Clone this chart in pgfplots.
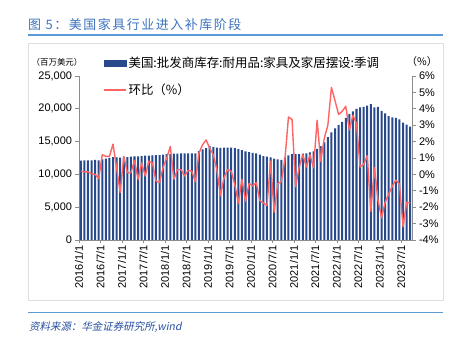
\documentclass[border=0pt]{standalone}
\usepackage{pgfplots}
\pgfplotsset{compat=1.18}
\usepackage{pgfplotstable}
\usepackage{fontspec}
\setmainfont{Liberation Sans}
\newfontfamily\cjk{Noto Sans CJK SC}
\newfontfamily\cjktitle{Noto Sans CJK SC}[LetterSpace=12]
\newfontfamily\cjkit{Noto Sans CJK SC}[FakeSlant=0.2]
\definecolor{barblue}{RGB}{40,74,140}
\definecolor{linered}{RGB}{255,100,100}
\definecolor{titleblue}{RGB}{60,115,190}
\definecolor{ruleblue}{RGB}{91,155,213}
\definecolor{srcblue}{RGB}{40,80,160}
\definecolor{axgray}{RGB}{140,140,140}
\pgfplotstableread{
i inv mom
0 12100 0.2
1 12150 0.15
2 12150 0.15
3 12150 0.05
4 12200 0.0
5 12150 -0.25
6 12300 1.2
7 12400 1.1
8 12500 1.1
9 12650 1.85
10 12600 0.4
11 12550 -1.1
12 12600 1.1
13 12650 0.1
14 12700 0.1
15 12750 0.85
16 12750 -0.3
17 12800 0.7
18 12850 -0.1
19 12850 0.8
20 12900 0.7
21 12950 -0.4
22 12950 -0.5
23 13000 0.45
24 13100 1.0
25 13100 1.7
26 13150 -0.3
27 13150 0.3
28 13200 0.3
29 13200 -0.1
30 13200 0.25
31 13200 0.2
32 13200 -0.45
33 13550 1.3
34 13800 1.8
35 14000 2.1
36 14300 1.6
37 14200 1.2
38 14100 0.3
39 14050 -1.3
40 14100 -0.2
41 14100 0.3
42 14100 0.2
43 14000 -0.6
44 13850 -1.75
45 13700 -0.3
46 13500 -1.65
47 13400 -0.55
48 13300 -0.7
49 13200 -0.5
50 13000 -1.6
51 12800 -1.75
52 12700 -1.9
53 12600 0.8
54 12400 -2.3
55 12300 -0.55
56 12200 -0.45
57 12500 0.9
58 12900 3.5
59 13100 3.35
60 13100 -0.75
61 13100 0.45
62 13150 1.2
63 13200 0.45
64 13350 1.2
65 13500 0.4
66 13900 3.3
67 14300 0.8
68 14900 2.2
69 15700 3.0
70 16400 5.3
71 17000 4.5
72 17500 3.65
73 18000 3.85
74 18600 4.15
75 19200 2.7
76 19600 3.6
77 20000 3.1
78 20200 0.45
79 20300 0.6
80 20500 1.15
81 20700 -2.25
82 20200 0.4
83 20300 -1.55
84 19700 -2.65
85 19300 -1.7
86 18900 -1.2
87 18700 -0.7
88 18600 -0.35
89 18400 -0.6
90 17900 -3.2
91 17600 -1.7
92 17300 -1.75
}\datatable
\begin{document}
\begin{tikzpicture}
\useasboundingbox[fill=white] (0,0) rectangle (459bp,341bp);
% title
\node[anchor=west, text=titleblue, inner sep=0pt] at (28bp,316bp) {\fontsize{13}{15}\cjktitle 图 5：美国家具行业进入补库阶段};
\draw[ruleblue, line width=1.3bp] (28bp,306bp) -- (443bp,306bp);
% chart frame
\draw[gray!25, line width=0.6bp] (28bp,41bp) rectangle (443bp,298bp);
% source
\draw[ruleblue, line width=1bp] (28bp,28bp) -- (443bp,28bp);
\node[anchor=west, text=srcblue, inner sep=0pt] at (29bp,14bp) {\fontsize{10.5}{12}\cjkit 资料来源：华金证券研究所,wind};
% unit labels
\node[anchor=center, inner sep=0pt] at (57bp,279bp) {\fontsize{8.5}{10}\cjk （百万美元）};
\node[anchor=center, inner sep=0pt] at (422bp,279bp) {\fontsize{10.5}{12}\cjk （\%）};
\begin{axis}[
  at={(79bp,101bp)}, anchor=south west,
  scale only axis, width=333bp, height=164bp,
  xmin=0, xmax=93, ymin=0, ymax=25000,
  axis x line*=bottom, axis y line*=left,
  axis line style={axgray, line width=0.8bp},
  tick style={axgray, line width=0.6bp},
  tick align=outside, major tick length=3.5bp,
  xtick={0,6,...,90},
  xticklabels={2016/1/1,2016/7/1,2017/1/1,2017/7/1,2018/1/1,2018/7/1,2019/1/1,2019/7/1,2020/1/1,2020/7/1,2021/1/1,2021/7/1,2022/1/1,2022/7/1,2023/1/1,2023/7/1},
  xticklabel style={rotate=90, anchor=east, font=\fontsize{11}{13}\selectfont, inner sep=2pt},
  ytick={0,5000,10000,15000,20000,25000},
  yticklabels={0,{5,000},{10,000},{15,000},{20,000},{25,000}},
  scaled y ticks=false,
  yticklabel style={font=\fontsize{11}{13}\selectfont},
  /pgf/number format/assume math mode=true,
  clip=false,
]
\addplot[ybar, bar width=0.56, fill=barblue, draw=none]
  table[x expr=\coordindex+0.5, y=inv] {\datatable};
\end{axis}
\begin{axis}[
  at={(79bp,101bp)}, anchor=south west,
  scale only axis, width=333bp, height=164bp,
  xmin=0, xmax=93, ymin=-4, ymax=6,
  axis x line=none, axis y line*=right,
  axis line style={axgray, line width=0.8bp},
  tick style={axgray, line width=0.6bp},
  tick align=outside, major tick length=3.5bp,
  ytick={-4,-3,-2,-1,0,1,2,3,4,5,6},
  yticklabels={-4\%,-3\%,-2\%,-1\%,0\%,1\%,2\%,3\%,4\%,5\%,6\%},
  yticklabel style={font=\fontsize{11}{13}\selectfont},
  /pgf/number format/assume math mode=true,
  legend style={at={(rel axis cs:0.072,1.13)}, anchor=north west, draw=none, fill=none,
    font=\fontsize{12.5}{14}\cjk, row sep=11bp, inner sep=0pt},
  legend cell align=left,
  clip=false,
]
\addlegendimage{legend image code/.code={\fill[barblue] (0bp,-3bp) rectangle (22bp,3bp);}}
\addlegendentry{美国:批发商库存:耐用品:家具及家居摆设:季调}
\addplot[linered, line width=1.4bp, line join=round, no markers,
  legend image code/.code={\draw[linered, line width=1.4bp] (0bp,0bp) -- (22bp,0bp);}]
  table[x expr=\coordindex+0.5, y=mom] {\datatable};
\addlegendentry{环比（\%）}
\end{axis}
\end{tikzpicture}
\end{document}
